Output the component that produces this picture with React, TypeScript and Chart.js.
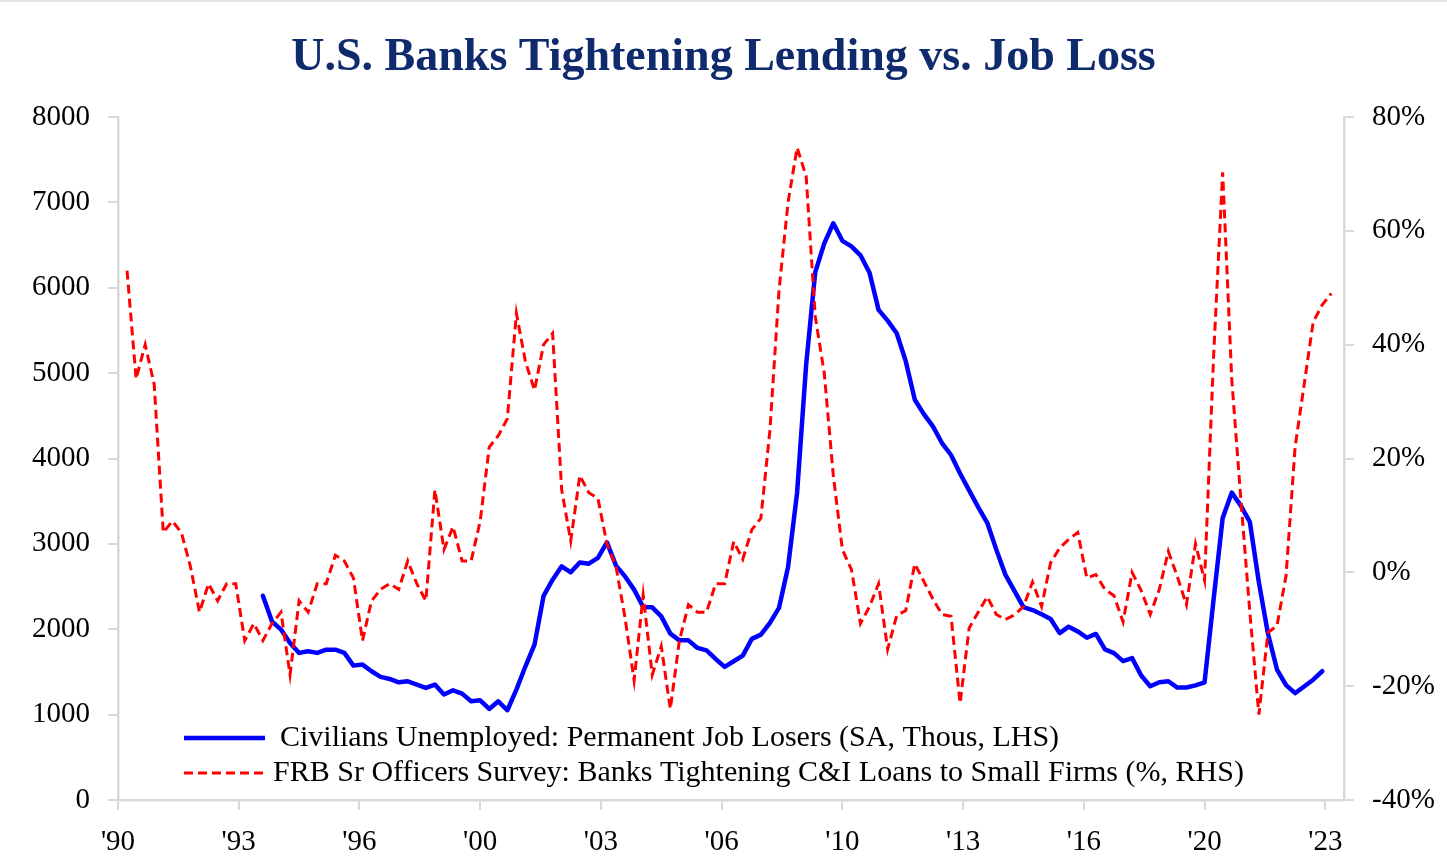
import React, { useEffect, useRef } from 'react';
import { Chart, registerables } from 'chart.js';

Chart.register(...registerables);

// ---------- Data ----------
const chartTitle = 'U.S. Banks Tightening Lending vs. Job Loss';

const xTickLabels = ["'90", "'93", "'96", "'00", "'03", "'06", "'10", "'13", "'16", "'20", "'23"];
const xTickStartYear = 1990;
const xTickStepMonths = 40;
const xAxisEndYear = 2023.85;

const jobLosersLabel = 'Civilians Unemployed: Permanent Job Losers (SA, Thous, LHS)';
const jobLosersStartYear = 1994.0; // quarterly from 1994 Q1
const jobLosers = [
  2393, 2093, 1996, 1840, 1723, 1742, 1723, 1761, 1761, 1723,
  1574, 1586, 1508, 1442, 1418, 1379, 1391, 1352, 1313, 1352,
  1235, 1285, 1246, 1156, 1168, 1067, 1156, 1051, 1293, 1566,
  1820, 2390, 2581, 2737, 2667, 2783, 2768, 2835, 3017, 2745,
  2619, 2464, 2261, 2257, 2151, 1949, 1870, 1870, 1781, 1753,
  1652, 1559, 1625, 1691, 1887, 1937, 2074, 2250, 2730, 3600,
  5100, 6180, 6520, 6755, 6550, 6485, 6380, 6175, 5741, 5615,
  5467, 5140, 4688, 4520, 4376, 4181, 4041, 3824, 3626, 3430,
  3247, 2933, 2640, 2450, 2260, 2225, 2175, 2120, 1955, 2030,
  1975, 1900, 1945, 1765, 1720, 1627, 1662, 1458, 1333, 1379,
  1391, 1317, 1317, 1342, 1379, 2350, 3304, 3600, 3448, 3257,
  2550, 1950, 1528, 1345, 1252, 1330, 1409, 1508,
];

const tighteningLabel = 'FRB Sr Officers Survey: Banks Tightening C&I Loans to Small Firms (%, RHS)';
const tighteningStartYear = 1990.25; // quarterly from 1990 Q2
const tightening = [
  53, 34, 40, 33, 7, 9, 7, 1, -7, -2,
  -5, -2, -2, -12, -9, -12, -9, -7, -18, -5,
  -7, -2, -2, 3, 2, -1, -12, -5, -3, -2,
  -3, 2, -2, -5, 14.5, 4, 8, 2, 2, 9,
  22, 24, 27, 45.5, 37, 32, 40, 42, 14.5, 5.5,
  17, 14, 13, 5, 1, -8, -19, -4, -18, -13,
  -24, -12, -5.7, -7, -7, -2, -2, 5.4, 2.3, 7.5,
  9.5, 25, 49.5, 65, 74.6, 69.6, 45, 35, 17, 4,
  0.5, -9, -6, -2, -13.5, -7.6, -6.7, 1.5, -1.6, -4.7,
  -7.4, -7.7, -23, -9.8, -7, -4.3, -7.4, -8.3, -7.5, -6,
  -1.7, -6, 1.7, 4.3, 5.8, 7, -1, -0.4, -3, -4.1,
  -8.7, 0, -3.2, -7.4, -3, 3.7, -0.8, -5.7, 5, -1.4,
  38, 70.3, 34, 13, -7, -25, -10.6, -9.4, -0.6, 22,
  33, 44, 47, 49,
];

const leftMin = 0;
const leftMax = 8000;
const leftStep = 1000;
const rightMin = -40;
const rightMax = 80;
const rightStep = 20;

// ---------- Styles ----------
const SERIF = "'Liberation Serif', 'Times New Roman', serif";
const AXIS_GRAY = '#d9d9d9';
const TEXT = '#000000';
const TITLE_COLOR = '#102a6e';
const W = 1447;
const H = 863;

const insideLegend = {
  id: 'insideLegend',
  afterDatasetsDraw(chart: any) {
    const { ctx, chartArea } = chart;
    const rows = [
      { ds: 0, dy: -62, textDx: 162 },
      { ds: 1, dy: -27, textDx: 155 },
    ];
    ctx.save();
    rows.forEach((r) => {
      const ds = chart.data.datasets[r.ds];
      const y = chartArea.bottom + r.dy;
      ctx.beginPath();
      ctx.strokeStyle = ds.borderColor;
      ctx.lineWidth = ds.borderWidth;
      ctx.setLineDash(ds.borderDash || []);
      ctx.lineCap = 'butt';
      ctx.moveTo(chartArea.left + 66, y);
      ctx.lineTo(chartArea.left + 147, y);
      ctx.stroke();
      ctx.setLineDash([]);
      ctx.fillStyle = TEXT;
      ctx.font = `30px ${SERIF}`;
      ctx.textBaseline = 'middle';
      ctx.textAlign = 'left';
      ctx.fillText(ds.label, chartArea.left + r.textDx, y);
    });
    ctx.restore();
  },
};

export default function App() {
  const canvasRef = useRef<HTMLCanvasElement | null>(null);

  useEffect(() => {
    document.body.style.margin = '0';
    const canvas = canvasRef.current;
    if (!canvas) return;

    const bluePts = jobLosers.map((v, i) => ({ x: jobLosersStartYear + i * 0.25, y: v }));
    const redPts = tightening.map((v, i) => ({ x: tighteningStartYear + i * 0.25, y: v }));

    const tickFont = { family: SERIF, size: 29 };

    const chart = new Chart(canvas, {
      type: 'line',
      data: {
        datasets: [
          {
            label: jobLosersLabel,
            data: bluePts,
            yAxisID: 'y',
            borderColor: '#0000ff',
            borderWidth: 4.5,
            borderJoinStyle: 'round',
            borderCapStyle: 'round',
            pointRadius: 0,
            tension: 0,
            order: 2,
          },
          {
            label: tighteningLabel,
            data: redPts,
            yAxisID: 'y1',
            borderColor: '#ff0000',
            borderWidth: 3,
            borderDash: [9, 5],
            pointRadius: 0,
            tension: 0,
            order: 1,
          },
        ],
      },
      options: {
        responsive: false,
        animation: false,
        layout: { padding: 0 },
        plugins: {
          legend: { display: false },
          tooltip: { enabled: false },
          title: {
            display: true,
            text: chartTitle,
            color: TITLE_COLOR,
            font: { family: SERIF, size: 46, weight: 'bold', lineHeight: 1.2 },
            padding: { top: 31, bottom: 30.8 },
          },
        },
        scales: {
          x: {
            type: 'linear',
            min: xTickStartYear,
            max: xAxisEndYear,
            afterBuildTicks: (scale: any) => {
              scale.ticks = xTickLabels.map((_, i) => ({
                value: xTickStartYear + (i * xTickStepMonths) / 12,
              }));
            },
            afterFit: (scale: any) => {
              scale.height = 63;
            },
            ticks: {
              autoSkip: false,
              maxRotation: 0,
              font: tickFont,
              color: TEXT,
              padding: 15,
              callback: (_v: any, i: number) => xTickLabels[i],
            },
            grid: { drawOnChartArea: false, color: AXIS_GRAY, lineWidth: 2, tickLength: 10 },
            border: { color: AXIS_GRAY, width: 2.5 },
          },
          y: {
            position: 'left',
            min: leftMin,
            max: leftMax,
            afterFit: (scale: any) => {
              scale.width = 118;
            },
            ticks: {
              stepSize: leftStep,
              font: tickFont,
              color: TEXT,
              padding: 18,
              callback: (v: any) => String(v),
            },
            grid: { drawOnChartArea: false, color: AXIS_GRAY, lineWidth: 2, tickLength: 10 },
            border: { color: AXIS_GRAY, width: 2.5 },
          },
          y1: {
            position: 'right',
            min: rightMin,
            max: rightMax,
            afterFit: (scale: any) => {
              scale.width = W - 1344;
            },
            ticks: {
              stepSize: rightStep,
              font: tickFont,
              color: TEXT,
              padding: 18,
              callback: (v: any) => `${v}%`,
            },
            grid: { drawOnChartArea: false, color: AXIS_GRAY, lineWidth: 2, tickLength: 10 },
            border: { color: AXIS_GRAY, width: 2.5 },
          },
        },
      } as any,
      plugins: [insideLegend],
    });

    return () => chart.destroy();
  }, []);

  return (
    <div style={{ position: 'fixed', left: 0, top: 0, width: W, height: H, background: '#fff' }}>
      <div style={{ position: 'absolute', left: 0, top: 0, width: W, height: 2, background: '#e3e3e3' }} />
      <canvas ref={canvasRef} width={W} height={H} style={{ display: 'block' }} />
    </div>
  );
}
